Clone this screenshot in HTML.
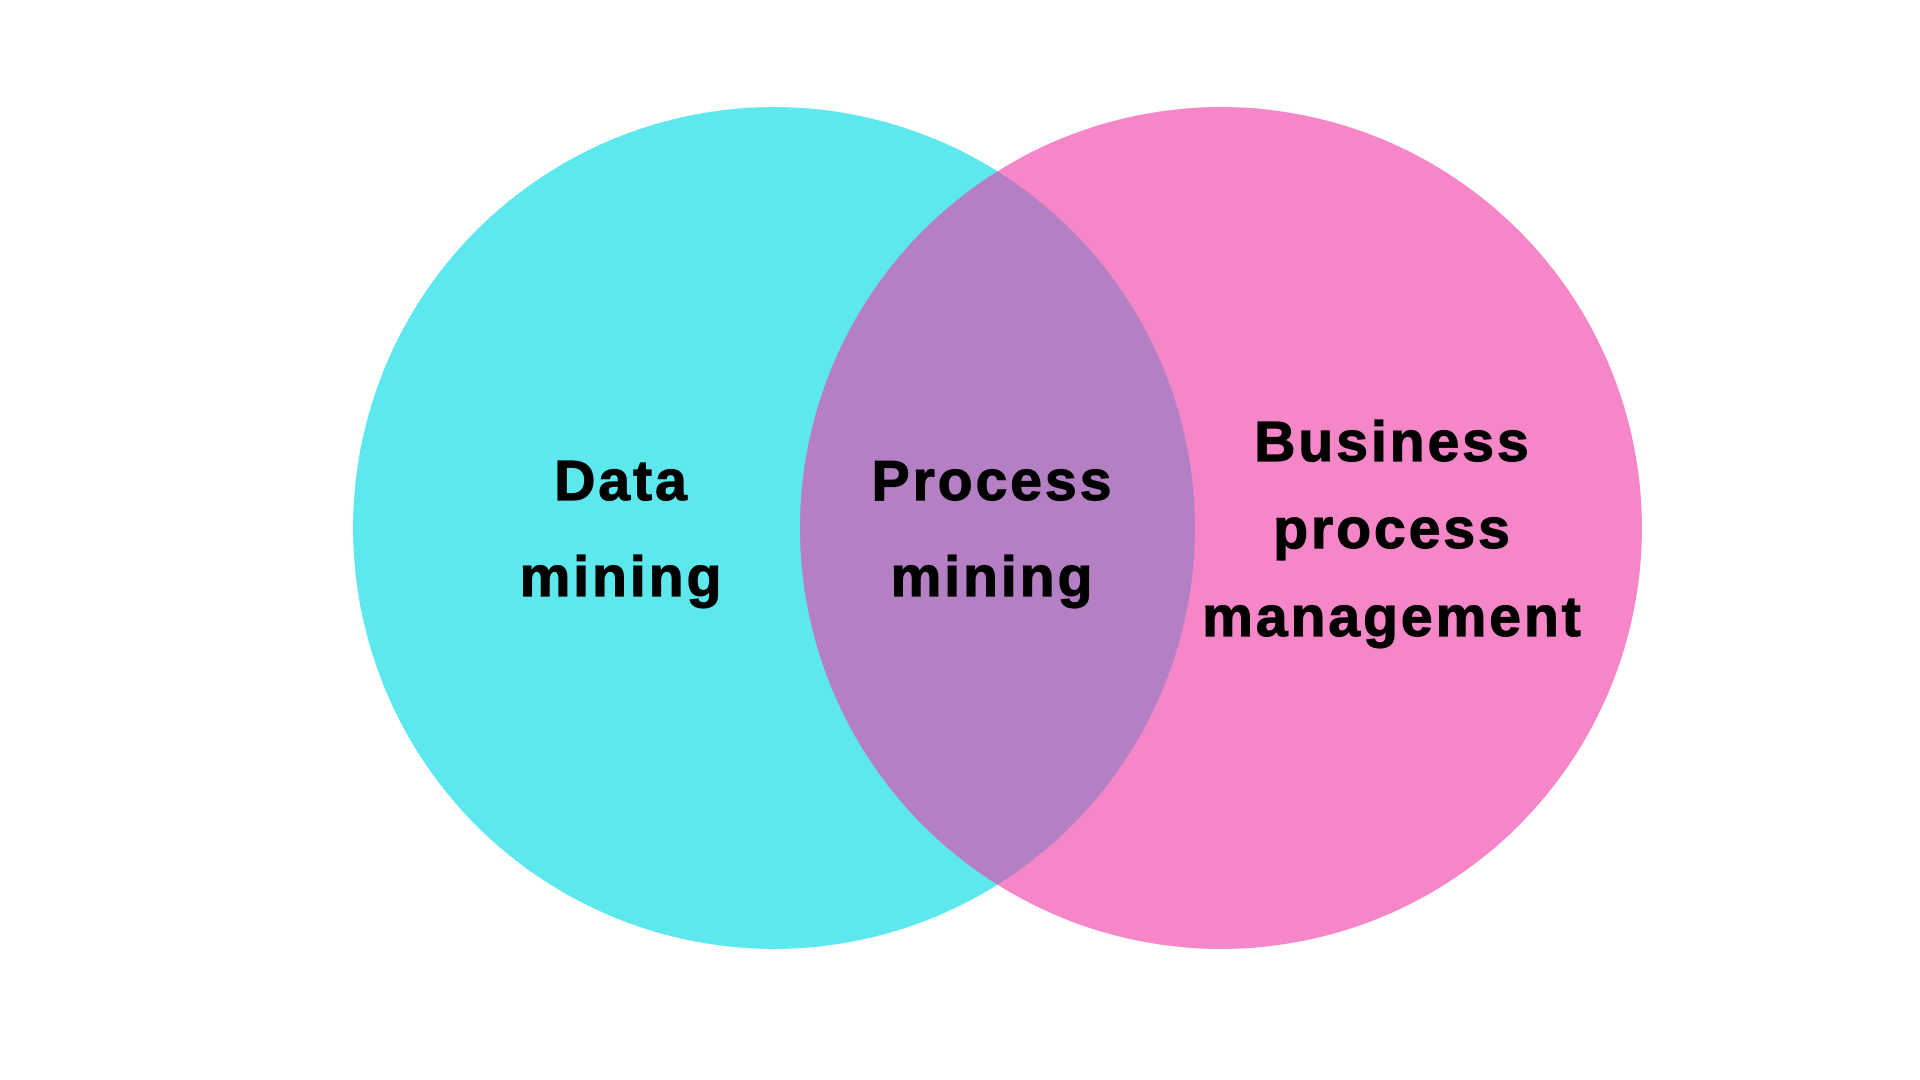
<!DOCTYPE html>
<html><head><meta charset="utf-8"><style>
html,body{margin:0;padding:0;background:#fff;}
svg{display:block}
text{font-family:"Liberation Sans",sans-serif;font-weight:bold;font-size:57px;letter-spacing:3px;fill:#000;text-anchor:middle;stroke:#000;stroke-width:1.2px}
</style></head><body>
<svg width="1920" height="1080" viewBox="0 0 1920 1080">
<defs><clipPath id="c"><circle cx="774" cy="528" r="421"/></clipPath></defs>
<rect width="1920" height="1080" fill="#fff"/>
<circle cx="774" cy="528" r="421" fill="#5DE8EE"/>
<circle cx="1221" cy="528" r="421" fill="#F587C8"/>
<circle cx="1221" cy="528" r="421" fill="#B47FC3" clip-path="url(#c)"/>
<text x="622" y="500">Data</text>
<text x="622" y="596">mining</text>
<text x="993" y="500">Process</text>
<text x="993" y="596">mining</text>
<text x="1393" y="461">Business</text>
<text x="1393" y="548">process</text>
<text x="1393" y="636">management</text>
</svg>
</body></html>
